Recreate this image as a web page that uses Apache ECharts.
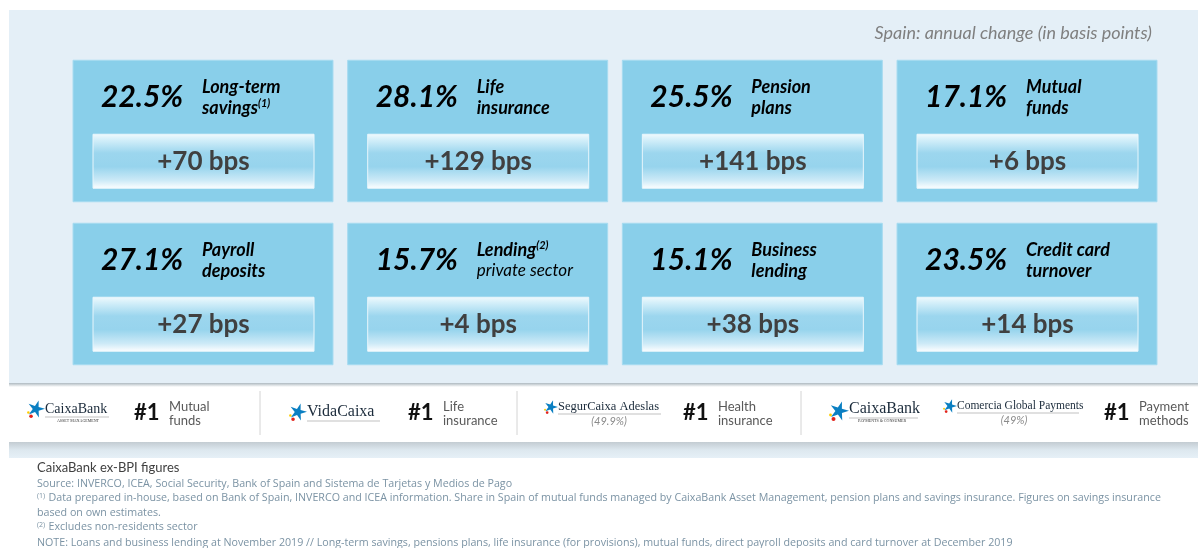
<!DOCTYPE html>
<html>
<head>
<meta charset="utf-8">
<script src="https://cdn.jsdelivr.net/npm/echarts@6/dist/echarts.min.js"></script>
<style>
  html, body { margin: 0; padding: 0; background: #fff; }
  #main { width: 1198px; height: 548px; }
</style>
</head>
<body>
<div id="main"></div>
<script>
// tarjetas: cuota de mercado y variación anual
const shares = ['22.5%', '28.1%', '25.5%', '17.1%', '27.1%', '15.7%', '15.1%', '23.5%'];
const labelTop = ['Long-term', 'Life', 'Pension', 'Mutual', 'Payroll', 'Lending', 'Business', 'Credit card'];
const labelBottom = ['savings', 'insurance', 'plans', 'funds', 'deposits', 'private sector', 'lending', 'turnover'];
const noteTop = ['', '', '', '', '', '(2)', '', ''];
const noteBottom = ['(1)', '', '', '', '', '', '', ''];
const bps = [70, 129, 141, 6, 27, 4, 38, 14];
const cols = [0, 1, 2, 3, 0, 1, 2, 3];
const rows = [0, 0, 0, 0, 1, 1, 1, 1];

// franja de marcas
const rankNums = ['#1', '#1', '#1', '#1'];
const rankProducts = ['Mutual\nfunds', 'Life\ninsurance', 'Health\ninsurance', 'Payment\nmethods'];

const title = 'Spain: annual change (in basis points)';
const FONT = 'Lato';
const FOOT_FONT = '"Open Sans"';
const chart = echarts.init(document.getElementById('main'), null, { renderer: 'canvas' });

const data = shares.map((s, i) => [cols[i], rows[i], i]);

function star(cx, cy, r) {  // estrella del logo
  const pts = [];
  for (let k = 0; k < 10; k++) {
    const a = -Math.PI / 2 + k * Math.PI / 5 + 0.3;
    const rr = k % 2 === 0 ? r : r * 0.36;
    pts.push([cx + rr * Math.cos(a), cy + rr * Math.sin(a)]);
  }
  return pts;
}

function logoIcon(x, y, s) {
  return [
    { type: 'polygon', shape: { points: star(x, y, s) }, style: { fill: '#0a7fc2' } },
    { type: 'circle', shape: { cx: x - s * 0.55, cy: y + s * 0.8, r: s * 0.2 }, style: { fill: '#e2231a' } },
    { type: 'circle', shape: { cx: x - s * 0.85, cy: y + s * 0.4, r: s * 0.14 }, style: { fill: '#ffcc00' } }
  ];
}

function brand(x, y, text, size, sub, subItalic) {
  const els = [
    { type: 'text', style: { text: text, x: x, y: y, font: size + 'px "Liberation Serif"', fill: '#1a2a3a', textVerticalAlign: 'middle' } }
  ];
  if (sub) {
    els.push({
      type: 'text',
      style: subItalic
        ? { text: sub, x: x + subItalic, y: y + 14, font: 'italic 11px ' + FONT, fill: '#8a8a8a', textAlign: 'center', textVerticalAlign: 'middle' }
        : { text: sub, x: x + 33, y: y + 12, font: '4px "Liberation Serif"', fill: '#333', textAlign: 'center', textVerticalAlign: 'middle' }
    });
  }
  return els;
}

const rankX = [134, 408, 683, 1104];
const bandEls = [];
rankX.forEach((x, i) => {
  bandEls.push({ type: 'text', style: { text: rankNums[i], x: x, y: 413, font: 'bold 22px ' + FONT, fill: '#111', textVerticalAlign: 'middle' } });
  bandEls.push({ type: 'text', style: { text: rankProducts[i], x: x + 35, y: 414, font: '13px ' + FONT, fill: '#595959', lineHeight: 14, textVerticalAlign: 'middle' } });
});
[260, 517, 801].forEach(x => {
  bandEls.push({ type: 'line', shape: { x1: x, y1: 391, x2: x, y2: 435 }, style: { stroke: '#d4d4d4', lineWidth: 1 } });
});
bandEls.push(...logoIcon(36, 409, 9));
bandEls.push(...brand(45, 409, 'CaixaBank', 14, 'ASSET MANAGEMENT'));
bandEls.push({ type: 'line', shape: { x1: 45, y1: 417, x2: 109, y2: 417 }, style: { stroke: '#999', lineWidth: 0.6 } });
bandEls.push(...logoIcon(298, 412, 9));
bandEls.push(...brand(307, 412, 'VidaCaixa', 16));
bandEls.push({ type: 'line', shape: { x1: 307, y1: 421, x2: 380, y2: 421 }, style: { stroke: '#999', lineWidth: 0.6 } });
bandEls.push(...logoIcon(551, 407, 7));
bandEls.push(...brand(558, 407, 'SegurCaixa Adeslas', 12.5, '(49.9%)', 51));
bandEls.push({ type: 'line', shape: { x1: 558, y1: 414, x2: 661, y2: 414 }, style: { stroke: '#999', lineWidth: 0.6 } });
bandEls.push(...logoIcon(839, 411, 10));
bandEls.push(...brand(849, 409, 'CaixaBank', 16, 'PAYMENTS & CONSUMER'));
bandEls.push({ type: 'line', shape: { x1: 849, y1: 418, x2: 918, y2: 418 }, style: { stroke: '#999', lineWidth: 0.6 } });
bandEls.push(...logoIcon(950, 406, 7));
bandEls.push(...brand(957, 406, 'Comercia Global Payments', 11.5, '(49%)', 57));
bandEls.push({ type: 'line', shape: { x1: 957, y1: 413, x2: 1079, y2: 413 }, style: { stroke: '#999', lineWidth: 0.6 } });

// notas al pie
const FOOT_COLOR = '#7b93a4';
const FOOT_SIZE = 10.7;
const foot = { fontSize: FOOT_SIZE, fontFamily: FOOT_FONT, fill: FOOT_COLOR };
const supStyle = { fontSize: 7, fontFamily: FOOT_FONT, fill: FOOT_COLOR, padding: [0, 0, 5, 0] };
const normStyle = { fontSize: FOOT_SIZE, fontFamily: FOOT_FONT, fill: FOOT_COLOR };
const footEls = [
  { type: 'text', style: { text: 'CaixaBank ex-BPI figures', x: 37, y: 468, font: '13px ' + FONT, fill: '#404040', textVerticalAlign: 'middle' } },
  { type: 'text', style: Object.assign({ text: 'Source: INVERCO, ICEA, Social Security, Bank of Spain and Sistema de Tarjetas y Medios de Pago', x: 37, y: 484, textVerticalAlign: 'middle' }, foot) },
  { type: 'text', style: { text: '{s|(1)} {n|Data prepared in-house, based on Bank of Spain, INVERCO and ICEA information. Share in Spain of mutual funds managed by CaixaBank Asset Management, pension plans and savings insurance. Figures on savings insurance}', rich: { s: supStyle, n: normStyle }, x: 37, y: 498, textVerticalAlign: 'middle' } },
  { type: 'text', style: Object.assign({ text: 'based on own estimates.', x: 37, y: 513, textVerticalAlign: 'middle' }, foot) },
  { type: 'text', style: { text: '{s|(2)} {n|Excludes non-residents sector}', rich: { s: supStyle, n: normStyle }, x: 37, y: 527, textVerticalAlign: 'middle' } },
  { type: 'text', style: Object.assign({ text: 'NOTE: Loans and business lending at November 2019 // Long-term savings, pensions plans, life insurance (for provisions), mutual funds, direct payroll deposits and card turnover at December 2019', x: 37, y: 543, textVerticalAlign: 'middle' }, foot) }
];

const option = {
  animation: false,
  graphic: {
    elements: [
      { type: 'rect', z: -10, shape: { x: 9, y: 10, width: 1189, height: 373 }, style: { fill: '#e4eff7' } },
      { type: 'rect', z: -10, shape: { x: 9, y: 383, width: 1189, height: 4 },
        style: { fill: new echarts.graphic.LinearGradient(0, 0, 0, 1, [{ offset: 0, color: '#aeb9c0' }, { offset: 1, color: '#ffffff' }]) } },
      { type: 'rect', z: -10, shape: { x: 9, y: 442, width: 1189, height: 16 },
        style: { fill: new echarts.graphic.LinearGradient(0, 0, 0, 1, [{ offset: 0, color: '#c3ccd2' }, { offset: 0.5, color: '#dde8ef' }, { offset: 1, color: '#e6f0f7' }]) } },
      { type: 'text', style: { text: title, x: 1152, y: 33, font: 'italic 18px ' + FONT, fill: '#7f7f7f', textAlign: 'right', textVerticalAlign: 'middle' } },
      ...bandEls,
      ...footEls
    ]
  },
  grid: { left: 65.67, top: 49.5, width: 1098.67, height: 326 },
  xAxis: { type: 'value', min: -0.5, max: 3.5, show: false },
  yAxis: { type: 'value', min: -0.5, max: 1.5, inverse: true, show: false },
  series: [{
    type: 'custom',
    data: data,
    renderItem: function (params, api) {
      const c = api.coord([api.value(0), api.value(1)]);
      const s = api.size([1, 1]);
      const w = s[0] - 14.7, h = s[1] - 21.5;
      const x0 = c[0] - w / 2, y0 = c[1] - h / 2;
      const i = api.value(2);
      const midY = y0 + 37;
      const lendingSub = labelBottom[i] === 'private sector';
      const labText = '{a|' + labelTop[i] + '}' + (noteTop[i] ? '{s|' + noteTop[i] + '}' : '') + '\n' +
        (lendingSub ? '{p|' + labelBottom[i] + '}' : '{a|' + labelBottom[i] + '}') +
        (noteBottom[i] ? '{s|' + noteBottom[i] + '}' : '');
      return {
        type: 'group',
        children: [
          { type: 'rect', shape: { x: x0, y: y0, width: w, height: h }, style: { fill: '#89cfea', stroke: '#a6dbf0', lineWidth: 1 } },
          { type: 'rect', shape: { x: x0 + 20, y: y0 + 74, width: 221, height: 54 },
            style: {
              fill: new echarts.graphic.LinearGradient(0, 0, 0, 1, [
                { offset: 0, color: '#f2fafd' }, { offset: 0.1, color: '#d6f0fa' }, { offset: 0.35, color: '#9cd6ee' },
                { offset: 0.6, color: '#97d4ed' }, { offset: 0.85, color: '#cdeaf7' }, { offset: 1, color: '#ffffff' }
              ]),
              stroke: '#e8f6fc', lineWidth: 1
            } },
          { type: 'text', style: { text: shares[i], x: x0 + 28, y: midY, fontSize: 30, fontWeight: 'bold', fontStyle: 'italic', fontFamily: FONT, fill: '#000', textVerticalAlign: 'middle' } },
          { type: 'text', style: {
              text: labText, x: x0 + 129, y: midY, textVerticalAlign: 'middle',
              rich: {
                a: { fontSize: 18, fontWeight: 'bold', fontStyle: 'italic', fontFamily: FONT, fill: '#000', lineHeight: 21 },
                p: { fontSize: 17, fontStyle: 'italic', fontFamily: FONT, fill: '#000', lineHeight: 21 },
                s: { fontSize: 11, fontWeight: 'bold', fontStyle: 'italic', fontFamily: FONT, fill: '#000', lineHeight: 21, padding: [0, 0, 8, 0] }
              }
            } },
          { type: 'text', style: { text: '+' + bps[i] + ' bps', x: x0 + 130.5, y: y0 + 101, fontSize: 26, fontWeight: 'bold', fontFamily: FONT, fill: '#404040', textAlign: 'center', textVerticalAlign: 'middle' } }
        ]
      };
    }
  }]
};
chart.setOption(option);
</script>
</body>
</html>
